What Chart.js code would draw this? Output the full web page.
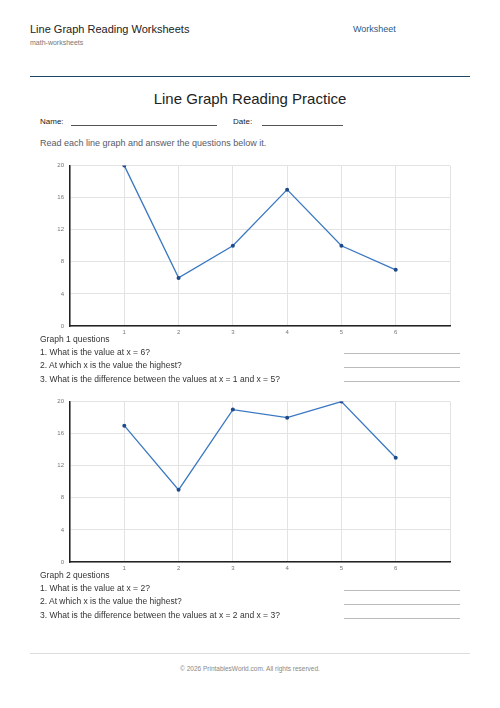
<!DOCTYPE html><html><head><meta charset="utf-8">
<script src="https://cdn.jsdelivr.net/npm/chart.js@4"></script>
<style>
body{margin:0;width:500px;height:708px;position:relative;font-family:"Liberation Sans",Arial,sans-serif;background:#fff;overflow:hidden}
.a{position:absolute;white-space:nowrap}
.ln{position:absolute;height:1px;background:#bbb}
.q{font-size:8.5px;color:#333}
</style></head><body>
<div class="a" style="left:30px;top:23px;font-size:11px;color:#222">Line Graph Reading Worksheets</div>
<div class="a" style="left:30px;top:39px;font-size:7px;color:#777">math-worksheets</div>
<div class="a" style="left:353px;top:24px;font-size:9px;color:#2a5a8a">Worksheet</div>
<div style="position:absolute;left:30px;top:76px;width:440px;height:1px;background:#1d4566"></div>
<div class="a" style="left:0;width:500px;text-align:center;top:90px;font-size:15px;color:#222">Line Graph Reading Practice</div>
<div class="a" style="left:40px;top:117px;font-size:8px;color:#222">Name:</div>
<div style="position:absolute;left:71px;top:125px;width:146px;height:1px;background:#555"></div>
<div class="a" style="left:233px;top:117px;font-size:8px;color:#222">Date:</div>
<div style="position:absolute;left:262px;top:125px;width:81px;height:1px;background:#555"></div>
<div class="a" style="left:40px;top:138px;font-size:9px;color:#555a6a">Read each line graph and answer the questions below it.</div>
<div style="position:absolute;left:40px;top:156px;width:414px;height:182px"><canvas id="c1"></canvas></div>
<div class="a q" style="left:40px;top:334px">Graph 1 questions</div>
<div class="a q" style="left:40px;top:347px">1. What is the value at x = 6?</div>
<div class="a q" style="left:40px;top:360px">2. At which x is the value the highest?</div>
<div class="a q" style="left:40px;top:374px">3. What is the difference between the values at x = 1 and x = 5?</div>
<div class="ln" style="left:344px;top:353px;width:116px"></div>
<div class="ln" style="left:344px;top:367px;width:116px"></div>
<div class="ln" style="left:344px;top:381px;width:116px"></div>
<div style="position:absolute;left:40px;top:392px;width:414px;height:182px"><canvas id="c2"></canvas></div>
<div class="a q" style="left:40px;top:570px">Graph 2 questions</div>
<div class="a q" style="left:40px;top:583px">1. What is the value at x = 2?</div>
<div class="a q" style="left:40px;top:596px">2. At which x is the value the highest?</div>
<div class="a q" style="left:40px;top:610px">3. What is the difference between the values at x = 2 and x = 3?</div>
<div class="ln" style="left:344px;top:590px;width:116px"></div>
<div class="ln" style="left:344px;top:604px;width:116px"></div>
<div class="ln" style="left:344px;top:618px;width:116px"></div>
<div style="position:absolute;left:30px;top:653px;width:440px;height:1px;background:#ddd"></div>
<div class="a" style="left:0;width:500px;text-align:center;top:665px;font-size:6.5px;color:#888">© 2026 PrintablesWorld.com. All rights reserved.</div>
<script>
const xValues=[1,2,3,4,5,6];
const graph1=[20,6,10,17,10,7];
const graph2=[17,9,19,18,20,13];
const yTicks=[0,4,8,12,16,20];
function make(id,vals){
 new Chart(document.getElementById(id),{type:'line',
  data:{datasets:[{data:xValues.map((x,i)=>({x:x,y:vals[i]})),borderColor:'#3a78c2',backgroundColor:'#1d4a8a',borderWidth:1.3,pointRadius:2,pointBorderWidth:0,tension:0}]},
  options:{responsive:true,maintainAspectRatio:false,animation:false,layout:{padding:{top:5,right:0,left:0,bottom:0}},
   plugins:{legend:{display:false},tooltip:{enabled:false}},
   scales:{
    x:{type:'linear',min:0,max:7,afterBuildTicks:s=>{s.ticks=[0,1,2,3,4,5,6,7].map(v=>({value:v}));},
     afterFit:s=>{s.height=12},
     ticks:{font:{size:6},color:'#777',padding:3,callback:v=>(v>=1&&v<=6)?v:''},
     grid:{color:'#e3e3e3',drawTicks:false},border:{color:'#222',width:1.5}},
    y:{min:0,max:20,afterBuildTicks:s=>{s.ticks=yTicks.map(v=>({value:v}));},
     afterFit:s=>{s.width=30},
     ticks:{font:{size:6},color:'#777',padding:6},
     grid:{color:'#e3e3e3',drawTicks:false},border:{color:'#222',width:1.5}}}}});
}
make('c1',graph1);make('c2',graph2);
</script></body></html>
